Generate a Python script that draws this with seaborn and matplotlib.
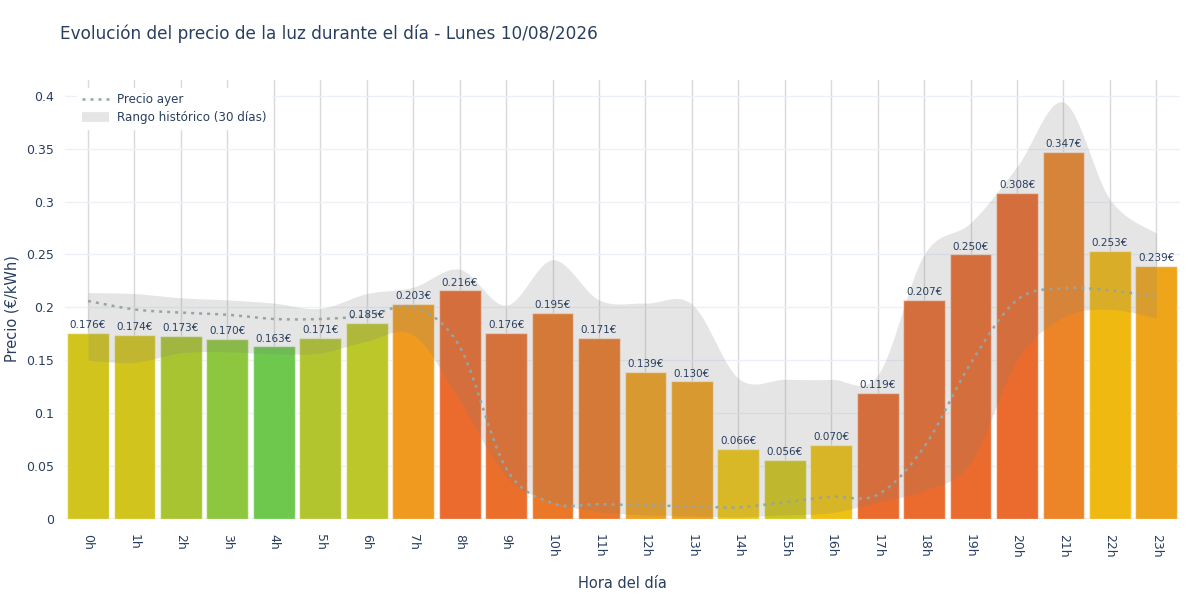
import matplotlib
matplotlib.use("Agg")
import matplotlib.pyplot as plt
from matplotlib.lines import Line2D
import numpy as np
import seaborn as sns

# Data
hours = [f"{h}h" for h in range(24)]
prices = [0.176, 0.174, 0.173, 0.170, 0.163, 0.171, 0.185, 0.203, 0.216, 0.176,
          0.195, 0.171, 0.139, 0.130, 0.066, 0.056, 0.070, 0.119, 0.207, 0.250,
          0.308, 0.347, 0.253, 0.239]
bar_colors = ["#d1c41d", "#d1c41d", "#a9c431", "#8dc73f", "#6dc84d", "#b3c52e",
              "#bcc72a", "#f09b1f", "#ea6b2d", "#eb6e2b", "#eb7828", "#eb7828",
              "#eea01e", "#eea01e", "#eec612", "#cfc61c", "#eec112", "#ea6b2d",
              "#ea6b2d", "#ea6b2d", "#ea6b2d", "#eb8528", "#f0b912", "#eea51a"]
yesterday = [0.206, 0.198, 0.195, 0.193, 0.189, 0.189, 0.192, 0.200, 0.163, 0.048,
             0.015, 0.014, 0.013, 0.012, 0.011, 0.016, 0.021, 0.023, 0.068, 0.147,
             0.207, 0.218, 0.216, 0.210]
hist_max = [0.214, 0.213, 0.209, 0.207, 0.204, 0.199, 0.213, 0.219, 0.236, 0.202,
            0.245, 0.207, 0.204, 0.203, 0.133, 0.132, 0.132, 0.136, 0.250, 0.280,
            0.333, 0.394, 0.302, 0.270]
hist_min = [0.150, 0.148, 0.157, 0.158, 0.156, 0.157, 0.168, 0.174, 0.112, 0.040,
            0.016, 0.007, 0.004, 0.003, 0.002, 0.004, 0.006, 0.016, 0.027, 0.053,
            0.150, 0.191, 0.198, 0.190]

TEXT = "#2a3f5f"


def spline(xs, ys, n=24):
    # Catmull-Rom curve through the points, like plotly's line_shape='spline'
    xs = np.asarray(xs, float)
    ys = np.asarray(ys, float)
    px = np.concatenate([[xs[0]], xs, [xs[-1]]])
    py = np.concatenate([[ys[0]], ys, [ys[-1]]])
    t = np.linspace(0, 1, n, endpoint=False)
    outx, outy = [], []
    for i in range(1, len(px) - 2):
        for p, out in ((px, outx), (py, outy)):
            p0, p1, p2, p3 = p[i - 1], p[i], p[i + 1], p[i + 2]
            out.extend(0.5 * (2 * p1 + (-p0 + p2) * t
                              + (2 * p0 - 5 * p1 + 4 * p2 - p3) * t ** 2
                              + (-p0 + 3 * p1 - 3 * p2 + p3) * t ** 3))
    outx.append(xs[-1])
    outy.append(ys[-1])
    return np.array(outx), np.array(outy)


sns.set_style("white")
plt.rcParams["font.family"] = ["DejaVu Sans"]

fig, ax = plt.subplots(figsize=(12, 6), dpi=100)
fig.subplots_adjust(left=0.054, right=0.983, bottom=0.135, top=0.867)

sns.barplot(x=hours, y=prices, hue=hours, palette=bar_colors, legend=False,
            width=0.9, saturation=1, edgecolor=(1, 1, 1, 0.55), linewidth=1,
            ax=ax, zorder=2)

for i, v in enumerate(prices):
    ax.annotate(f"{v:.3f}€", (i, v), xytext=(0, 2), textcoords="offset points",
                ha="center", va="bottom", fontsize=7.5, color=TEXT, zorder=5)

xpos = np.arange(len(hours))
bx, by_max = spline(xpos, hist_max)
_, by_min = spline(xpos, hist_min)
ax.fill_between(bx, by_min, by_max, color=(0.5, 0.5, 0.5, 0.2), lw=0, zorder=3)

lx, ly = spline(xpos, yesterday)
ax.plot(lx, ly, color="#95a5a6", lw=1.8, linestyle=(0, (1.2, 2.0)), zorder=4)

ax.set_xlim(-0.5, 23.5)
ax.set_ylim(0, 0.415)
ax.set_yticks(np.arange(0, 0.401, 0.05))
ax.set_yticklabels([f"{v:g}" for v in np.arange(0, 0.401, 0.05)])

for s in ax.spines.values():
    s.set_visible(False)
ax.set_axisbelow(True)
ax.yaxis.grid(True, color="#ebf0f8", lw=1)
ax.xaxis.grid(True, color="#d9d9d9", lw=1)
ax.axhline(0, color="#ebf0f8", lw=2, zorder=1)

ax.tick_params(axis="y", length=0, pad=8, labelsize=9, labelcolor=TEXT)
ax.tick_params(axis="x", length=7, width=1, color="#d9d9d9", pad=4,
               labelsize=9, labelcolor=TEXT, labelrotation=-90)

ax.set_xlabel("Hora del día", fontsize=10.5, color=TEXT, labelpad=13)
ax.set_ylabel("Precio (€/kWh)", fontsize=10.5, color=TEXT)
ax.yaxis.set_label_coords(-0.041, 0.478)

fig.text(0.05, 0.943, "Evolución del precio de la luz durante el día - Lunes 10/08/2026",
         fontsize=12.2, color=TEXT, va="center", ha="left")

handles = [Line2D([], [], color="#95a5a6", lw=1.8, linestyle=(0, (1.2, 2.0))),
           Line2D([], [], color="#e5e5e5", lw=7, solid_capstyle="butt")]
leg = ax.legend(handles, ["Precio ayer", "Rango histórico (30 días)"],
                loc="upper left", bbox_to_anchor=(0.006, 0.995), frameon=True,
                fancybox=False, framealpha=1, edgecolor="white", fontsize=8.6,
                handlelength=2.2, handletextpad=0.7, labelspacing=0.45,
                borderpad=0.4)
for t in leg.get_texts():
    t.set_color(TEXT)
leg.set_zorder(6)

fig.savefig("out.png", dpi=100, facecolor="white")
